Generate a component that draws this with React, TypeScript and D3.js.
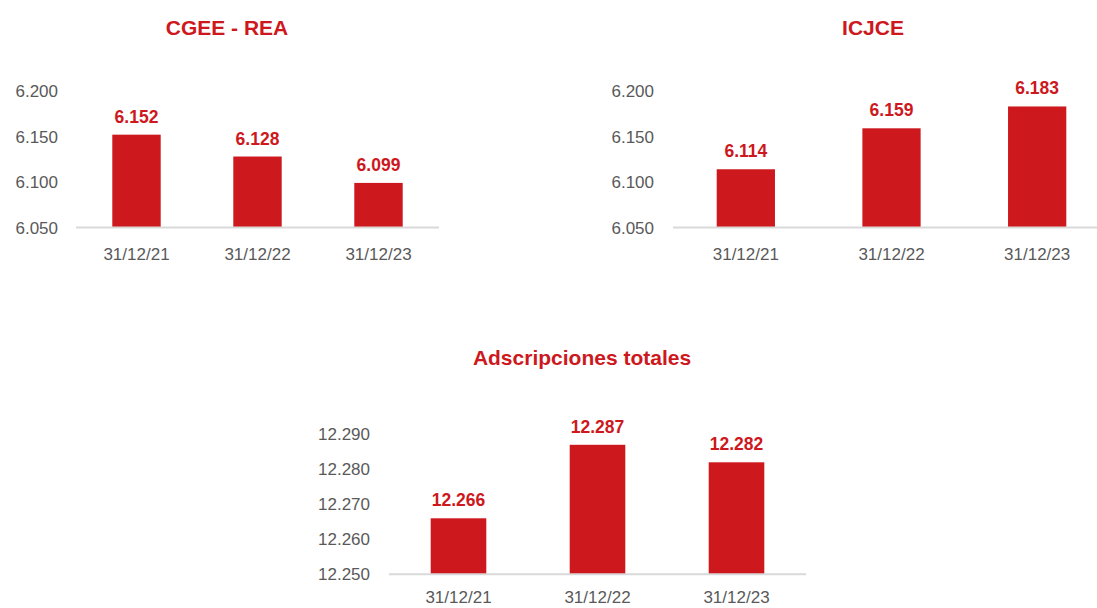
import React from 'react';
import * as d3 from 'd3';

// data
const categories = ['31/12/21', '31/12/22', '31/12/23'];
const cgeeValues = [6152, 6128, 6099];
const icjceValues = [6114, 6159, 6183];
const totalValues = [12266, 12287, 12282];
const smallTicks = [6050, 6100, 6150, 6200];
const totalTicks = [12250, 12260, 12270, 12280, 12290];

const RED = '#cd181d';
const GREY = '#595959';
const FONT = '"Liberation Sans", Arial, sans-serif';

const es = d3.formatLocale({ decimal: ',', thousands: '.', grouping: [3], currency: ['', '€'] });
const fmt = es.format(',d');

type PanelProps = {
  title: string;
  values: number[];
  ticks: number[];
  x0: number;
  x1: number;
  yBase: number;
  yTop: number;
  tickX: number;
  titleX: number;
  titleY: number;
  catDy?: number;
};

const Panel = ({ title, values, ticks, x0, x1, yBase, yTop, tickX, titleX, titleY, catDy = 32 }: PanelProps) => {
  const x = d3.scaleBand<string>().domain(categories).range([x0, x1]).paddingInner(0.6).paddingOuter(0.3);
  const y = d3
    .scaleLinear()
    .domain([ticks[0], ticks[ticks.length - 1]])
    .range([yBase, yTop]);

  return (
    <g fontFamily={FONT}>
      <text x={titleX} y={titleY} textAnchor="middle" fontSize={21} fontWeight="bold" fill={RED}>
        {title}
      </text>

      {/* y tick labels, no gridlines */}
      {ticks.map(t => (
        <text key={t} x={tickX} y={y(t) + 6} textAnchor="end" fontSize={17} fill={GREY}>
          {fmt(t)}
        </text>
      ))}

      {/* bars + value labels */}
      {values.map((v, i) => {
        const c = categories[i];
        const bx = x(c) as number;
        return (
          <g key={c}>
            <rect x={bx} y={y(v)} width={x.bandwidth()} height={yBase - y(v)} fill={RED} />
            <text
              x={bx + x.bandwidth() / 2}
              y={y(v) - 12}
              textAnchor="middle"
              fontSize={17.5}
              fontWeight="bold"
              fill={RED}
            >
              {fmt(v)}
            </text>
          </g>
        );
      })}

      <line x1={x0} x2={x1} y1={yBase} y2={yBase} stroke="#d9d9d9" strokeWidth={2} />

      {categories.map(c => (
        <text
          key={c}
          x={(x(c) as number) + x.bandwidth() / 2}
          y={yBase + catDy}
          textAnchor="middle"
          fontSize={17}
          fill={GREY}
        >
          {c}
        </text>
      ))}
    </g>
  );
};

export default function App() {
  return (
    <svg
      width={1097}
      height={608}
      style={{ position: 'absolute', left: 0, top: 0, background: '#fff' }}
    >
      <Panel
        title="CGEE - REA"
        values={cgeeValues}
        ticks={smallTicks}
        x0={76}
        x1={439}
        yBase={227.5}
        yTop={91}
        tickX={58}
        titleX={227}
        titleY={35}
      />
      <Panel
        title="ICJCE"
        values={icjceValues}
        ticks={smallTicks}
        x0={673}
        x1={1110}
        yBase={227.5}
        yTop={91}
        tickX={654}
        titleX={873}
        titleY={35}
      />
      <Panel
        title="Adscripciones totales"
        values={totalValues}
        ticks={totalTicks}
        x0={389}
        x1={806}
        yBase={574.3}
        yTop={434.3}
        tickX={370}
        titleX={582}
        titleY={365}
        catDy={29}
      />
    </svg>
  );
}
